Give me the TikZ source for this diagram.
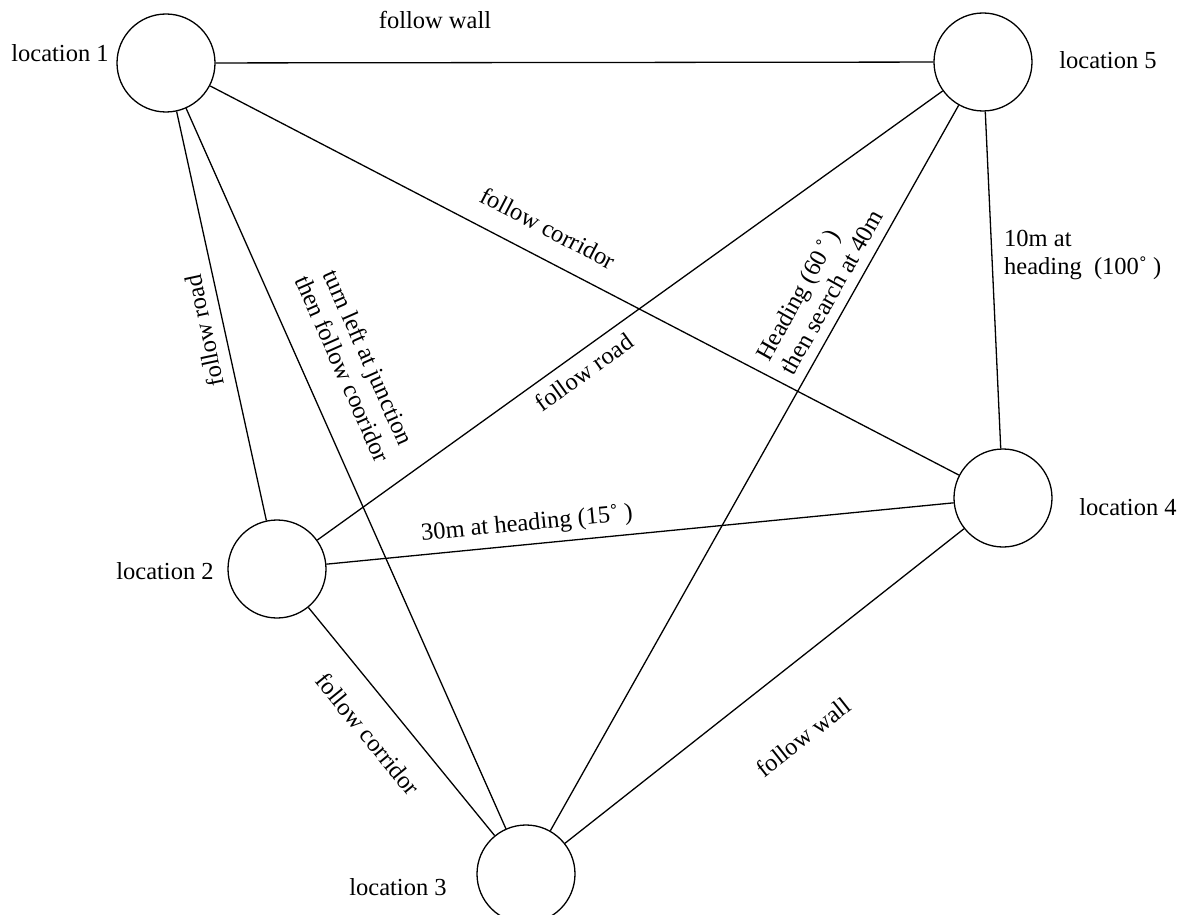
\documentclass[tikz,border=0pt]{standalone}
\usepackage{fontspec}
\setmainfont{Liberation Serif}
\begin{document}
\begin{tikzpicture}[x=1pt,y=-1pt,
  loc/.style={circle,draw,line width=1.3pt,minimum size=98pt,inner sep=0pt},
  conn/.style={line width=1.3pt},
  lbl/.style={font=\fontsize{24.5}{28}\selectfont,inner sep=1pt},
  locname/.style={font=\fontsize{24.5}{28}\selectfont,inner sep=0pt}]
\useasboundingbox (0,0) rectangle (1181,915);
\node[loc] (l1) at (166,63) {};
\node[loc] (l5) at (983,62) {};
\node[loc] (l4) at (1003,498) {};
\node[loc] (l2) at (277,569) {};
\node[loc] (l3) at (526,874) {};
\node[locname] (n1) at (60,53) {location 1};
\node[locname] (n5) at (1108,60) {location 5};
\node[locname] (n4) at (1128,507) {location 4};
\node[locname] (n2) at (165,571) {location 2};
\node[locname] (n3) at (398,887) {location 3};
\draw[conn] (l1) -- (l5);
\draw[conn] (l1) -- (l2);
\draw[conn] (l1) -- (l3);
\draw[conn] (l1) -- (l4);
\draw[conn] (l5) -- (l2);
\draw[conn] (l5) -- (l3);
\draw[conn] (l5) -- (l4);
\draw[conn] (l2) -- (l4);
\draw[conn] (l2) -- (l3);
\draw[conn] (l4) -- (l3);
\node[lbl] (t15) at (435,20) {follow wall};
\node[lbl,rotate=102] (t12) at (204,331) {follow road};
\node[lbl,rotate=-66.1,align=center] (t13) at (356,363) {turn left at junction\\then follow cooridor};
\node[lbl,rotate=-27.5] (t14) at (548,228) {follow corridor};
\node[lbl,rotate=35.7] (t52) at (584,372) {follow road};
\node[lbl,rotate=60.6,align=left] (t53) at (819,285) {Heading (60\,˚\,)\\then search at 40m};
\node[lbl,align=left,anchor=west] (t54) at (1003,255) {10m at\\heading\ \ (100˚ )};
\node[lbl,rotate=5.5] (t24) at (527,524) {30m at heading (15˚ )};
\node[lbl,rotate=-50.8] (t23) at (368,734) {follow corridor};
\node[lbl,rotate=38.2] (t43) at (803,737) {follow wall};
\end{tikzpicture}
\end{document}
